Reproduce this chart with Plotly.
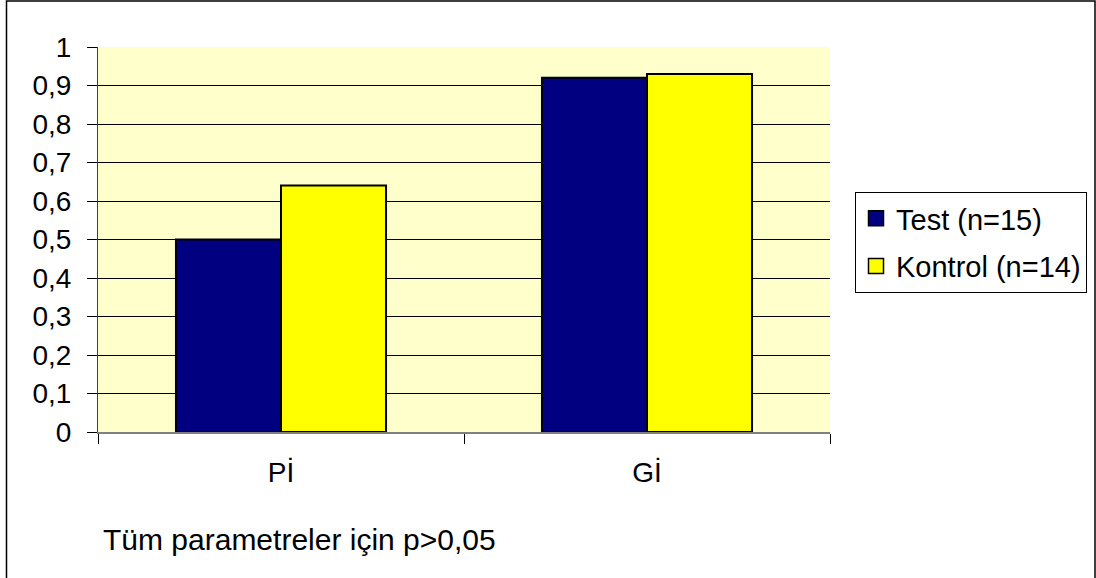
import plotly.graph_objects as go

# Index values per group
categories = ["Pİ", "Gİ"]
test_values = [0.50, 0.92]
kontrol_values = [0.64, 0.93]
series_names = ["Test (n=15)", "Kontrol (n=14)"]
series_colors = ["#000080", "#FFFF00"]
y_tick_vals = [0, 0.1, 0.2, 0.3, 0.4, 0.5, 0.6, 0.7, 0.8, 0.9, 1]
y_tick_text = ["0", "0,1", "0,2", "0,3", "0,4", "0,5", "0,6", "0,7", "0,8", "0,9", "1"]
note_text = "Tüm parametreler için p>0,05"

FONT = "Liberation Sans, Arial, sans-serif"
W, H = 1096, 578
L, R, T, B = 98, 266, 47, 146

fig = go.Figure()
for name, vals, col in zip(series_names, [test_values, kontrol_values], series_colors):
    fig.add_trace(go.Bar(
        x=categories, y=vals, name=name, showlegend=False,
        marker=dict(color=col, line=dict(color="black", width=2)),
    ))
    # legend entry with a larger square swatch
    fig.add_trace(go.Scatter(
        x=[None], y=[None], mode="markers", name=name, legendgroup=name,
        marker=dict(symbol="square", size=15, color=col,
                    line=dict(color="black", width=1.5)),
    ))

pw = W - L - R
ph = H - T - B


def px_x(x):
    return (x - L) / pw


def px_y(y):
    return (H - B - y) / ph


# Outer chart frame
fig.add_shape(type="rect", xref="paper", yref="paper",
              x0=px_x(6.5), x1=px_x(1095), y0=px_y(581), y1=px_y(1),
              line=dict(color="black", width=1.5), layer="below")

fig.add_annotation(text=note_text, xref="paper", yref="paper",
                   x=px_x(101), y=px_y(539), xanchor="left", yanchor="middle",
                   showarrow=False, font=dict(family=FONT, size=30, color="black"))

fig.update_layout(
    width=W, height=H,
    margin=dict(l=L, r=R, t=T, b=B, autoexpand=False),
    paper_bgcolor="white", plot_bgcolor="#FFFFCC",
    barmode="group", bargap=0.426, bargroupgap=0,
    font=dict(family=FONT, size=28, color="black"),
    legend=dict(x=px_x(855), y=px_y(192), xanchor="left", yanchor="top",
                bordercolor="black", borderwidth=1, bgcolor="white",
                font=dict(family=FONT, size=29), tracegroupgap=7,
                itemwidth=30),
    showlegend=True,
)
fig.update_xaxes(
    type="category", tickson="boundaries", ticks="outside", ticklen=10,
    tickcolor="black", tickwidth=1, showline=True, linecolor="#808080",
    linewidth=2, showgrid=False, ticklabelstandoff=14,
    tickfont=dict(family=FONT, size=28),
)
fig.update_yaxes(
    range=[0, 1], tickvals=y_tick_vals, ticktext=y_tick_text,
    ticks="outside", ticklen=10, tickcolor="black", tickwidth=1,
    showline=True, linecolor="#404040", linewidth=1,
    showgrid=True, gridcolor="black", gridwidth=1, zeroline=False,
    ticklabelstandoff=10, tickfont=dict(family=FONT, size=28),
)

fig.write_html("out.html")
